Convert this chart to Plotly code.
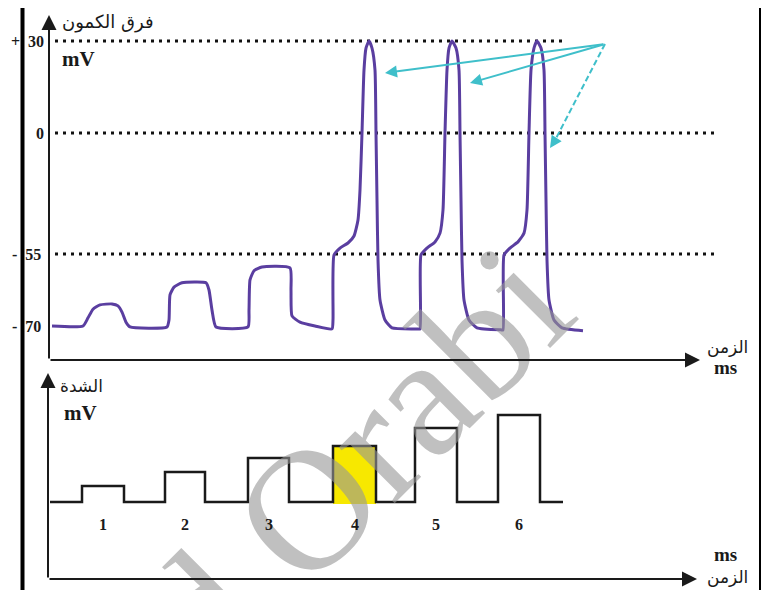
import numpy as np
import plotly.graph_objects as go

# the page places the figure 8px from the top-left corner of the window
PAGE_W, PAGE_H, OFF = 769, 590, 8
W, H = PAGE_W - OFF, PAGE_H - OFF

# ---------------- data ----------------
LEVELS_MV = [30, 0, -55, -70]
LEVEL_LABELS = ["+30", "0", "-55", "-70"]
DOTTED_LEVELS = [30, 0, -55]
DOTTED_END_T = [515, 668, 668]

# membrane potential recording (time in ms, arbitrary origin; potential in mV)
AP_T = [2, 33, 38, 43, 50, 62, 68, 72, 76, 80,
        117, 119, 120, 124, 132, 156, 159, 162, 166,
        198, 199, 200, 204, 212, 240, 241, 242, 250, 265, 282,
        283, 284, 290, 298, 304, 308, 310, 312, 314, 316, 319, 322, 325, 326, 327, 328, 330, 335, 342, 368,
        370, 371, 377, 385, 390, 393, 395, 397, 399, 402, 406, 409, 410, 411, 412, 414, 419, 427, 451,
        453, 454, 460, 468, 474, 477, 479, 481, 484, 487, 491, 494, 495, 496, 497, 499, 504, 512, 533]
AP_MV = [-70, -70, -68.3, -66.5, -65.6, -65.4, -65.8, -67.1, -69.2, -70.2,
         -70.2, -68.75, -63.5, -61.9, -61, -61, -62.5, -66.7, -70.2,
         -70.2, -66.7, -60.4, -58.5, -57.7, -57.9, -62.5, -67.9, -69.2, -70, -70.6,
         -68.75, -55.2, -52.3, -50, -46.8, -39.5, -25.9, 0, 20.5, 27.7, 30, 27.7, 20.5, 0, -30.5, -56.25, -64.6, -68.75, -70.4, -70.6,
         -70.6, -55.2, -52.3, -49.5, -45.5, -35, 0, 20.5, 27.7, 30, 27.7, 20.5, 0, -30.5, -56.25, -64.6, -68.75, -70.4, -70.8,
         -70.8, -55.2, -52.3, -49.5, -45.5, -35, 0, 20.5, 27.7, 30, 27.7, 20.5, 0, -30.5, -56.25, -64.6, -68.75, -70.4, -71]

# stimuli (lower panel)
STIM_LABELS = ["1", "2", "3", "4", "5", "6"]
STIM_START = [32, 115, 198, 283, 365, 448]
STIM_END = [74, 155, 239, 326, 407, 490]
STIM_AMP = [16, 30, 44, 56, 74, 87]
STIM_T0, STIM_T1 = 0, 513
HIGHLIGHT = 3  # stimulus 4


# nonlinear (schematic) scale of the original drawing
def disp(v):
    v = np.asarray(v, float)
    return np.where(v < -70, (v + 70) * 4.8,
                    np.interp(v, [-70, -55, 0, 30], [0, 72, 193, 285]))


PURPLE = "#5a3ea0"
CYAN = "#3fbfca"
INK = "#1a1a1a"
SERIF = "Liberation Serif"
AR = "DejaVu Sans"


def px(p):  # page x pixel -> paper fraction
    return (p - OFF) / W


def py(p):  # page y pixel -> paper fraction
    return 1 - (p - OFF) / H


fig = go.Figure()

# dotted reference levels
for lv, te in zip(DOTTED_LEVELS, DOTTED_END_T):
    fig.add_trace(go.Scatter(x=[5, te], y=disp([lv, lv]), mode="lines",
                             line=dict(color="#111", width=3, dash="3px,5px"),
                             hoverinfo="skip", showlegend=False))

# membrane potential trace
fig.add_trace(go.Scatter(x=AP_T, y=disp(AP_MV), mode="lines",
                         line=dict(color=PURPLE, width=3, shape="spline", smoothing=0.5),
                         hoverinfo="skip", showlegend=False))

# stimulus step signal
sx, sy = [STIM_T0], [0]
for s, e, a in zip(STIM_START, STIM_END, STIM_AMP):
    sx += [s, s, e, e]
    sy += [0, a, a, 0]
sx.append(STIM_T1)
sy.append(0)
fig.add_trace(go.Scatter(x=sx, y=sy, yaxis="y2", mode="lines",
                         line=dict(color=INK, width=2.5),
                         hoverinfo="skip", showlegend=False))

shapes = []
# highlighted stimulus fill
shapes.append(dict(type="rect", xref="x", yref="y2", layer="below",
                   x0=STIM_START[HIGHLIGHT], x1=STIM_END[HIGHLIGHT], y0=-2, y1=STIM_AMP[HIGHLIGHT],
                   fillcolor="#f7e800", line=dict(width=0)))
# page decorations
shapes.append(dict(type="rect", xref="paper", yref="paper",
                   x0=px(20.5), x1=px(24.5), y0=0, y1=1, fillcolor="#000", line=dict(width=0)))
shapes.append(dict(type="rect", xref="paper", yref="paper",
                   x0=px(759), x1=px(762), y0=0, y1=1, fillcolor="#000", line=dict(width=0)))
# dashed cyan pointer
shapes.append(dict(type="line", xref="x", yref="y", x0=555, y0=282, x1=502, y1=180,
                   line=dict(color=CYAN, width=2, dash="6px,3px")))

ann = []

# watermark (drawn first so other annotations sit above it)
ann.append(dict(x=px(356), y=py(460), xref="paper", yref="paper", text="d Orabi",
                showarrow=False, textangle=-45, xanchor="center", yanchor="middle",
                font=dict(family=SERIF, size=172, color="rgba(150,150,150,0.6)")))


def arrow(x, y, ax, ay, yref="y", color=INK, width=2, size=1.5, head=2):
    ann.append(dict(x=x, y=y, ax=ax, ay=ay, xref="x", yref=yref, axref="x", ayref=yref,
                    showarrow=True, arrowhead=head, arrowsize=size, arrowwidth=width,
                    arrowcolor=color, text="", standoff=0, startstandoff=0))


# axes with arrows
arrow(-1, 311, -1, -34)             # upper vertical
arrow(650, -34, -1, -34)            # upper horizontal
arrow(-2, 129, -2, -77, yref="y2")  # lower vertical
arrow(647, -77, -2, -77, yref="y2")  # lower horizontal

# cyan pointers to the action potentials
arrow(335, 253, 555, 282, color=CYAN, width=2, size=1.2)
arrow(420, 243, 555, 282, color=CYAN, width=2, size=1.2)
arrow(500, 178, 504, 184, color=CYAN, width=2, size=1.2)

# tick labels on potential axis (sign set apart from the digits, as in the original)
for lv, lab in zip(LEVELS_MV, LEVEL_LABELS):
    shown = lab[0] + "\u2002" + lab[1:] if lab[0] in "+-" else lab
    ann.append(dict(x=-4 if lv >= 0 else -7, y=float(disp(lv)), xref="x", yref="y", text=shown,
                    showarrow=False, xanchor="right", yanchor="middle",
                    font=dict(family=SERIF, size=16, color=INK, weight="bold")))

# stimulus numbers
for s, e, lab in zip(STIM_START, STIM_END, STIM_LABELS):
    ann.append(dict(x=(s + e) / 2, y=-22, xref="x", yref="y2", text=lab, showarrow=False,
                    font=dict(family=SERIF, size=16, color=INK, weight="bold")))


def ptext(x, y, text, family, size, bold=False, anchor="left"):
    ann.append(dict(x=px(x), y=py(y), xref="paper", yref="paper", text=text,
                    showarrow=False, xanchor=anchor, yanchor="middle",
                    font=dict(family=family, size=size, color=INK,
                              weight="bold" if bold else "normal")))


ptext(60, 22, "فرق الكمون", AR, 18)
ptext(60, 59, "mV", SERIF, 21, bold=True)
ptext(58, 386, "الشدة", AR, 17)
ptext(62, 413, "mV", SERIF, 21, bold=True)
ptext(727, 347, "الزمن", AR, 17, anchor="center")
ptext(725, 367, "ms", SERIF, 19, bold=True, anchor="center")
ptext(725, 554, "ms", SERIF, 19, bold=True, anchor="center")
ptext(727, 577, "الزمن", AR, 17, anchor="center")

# page x = t + 50 ; page y = 326 - disp (upper) ; page y = 502 - value (lower)
fig.update_layout(
    width=W, height=H, margin=dict(l=0, r=0, t=0, b=0),
    paper_bgcolor="white", plot_bgcolor="white",
    xaxis=dict(range=[OFF - 50, OFF - 50 + W], domain=[0, 1], visible=False, fixedrange=True),
    yaxis=dict(range=[326 - OFF - H, 326 - OFF], domain=[0, 1], visible=False, fixedrange=True),
    yaxis2=dict(range=[502 - OFF - H, 502 - OFF], overlaying="y", visible=False, fixedrange=True),
    shapes=shapes, annotations=ann, showlegend=False,
)

fig.write_html("out.html")
